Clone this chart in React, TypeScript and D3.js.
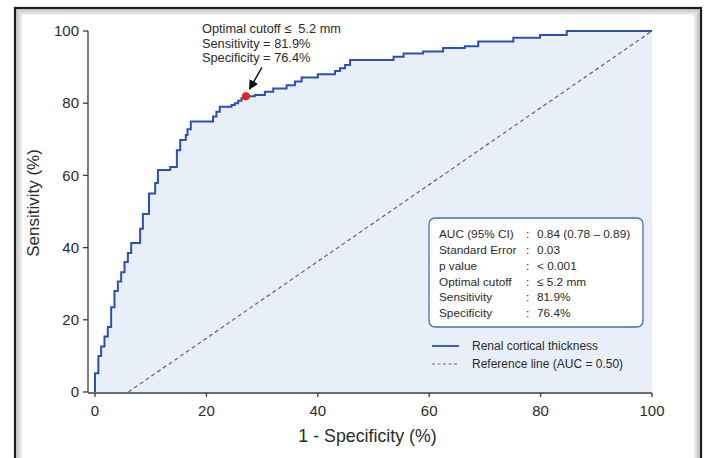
import React from "react";
import * as d3 from "d3";

// ROC step vertices: (1 - specificity, sensitivity) at the top of each vertical rise
const fprSteps = [0, 0, 0.6, 1.1, 1.7, 2.3, 2.9, 3.5, 4.1, 4.7, 5.3, 5.9, 6.5, 8.1, 8.6, 9.7, 10.8, 11.3, 13.5, 14.7, 15.3, 16.3, 16.6, 17.2, 21.2, 21.8, 22.4, 24.5, 25.1, 25.7, 26.3, 27.1, 28.7, 30.5, 32.0, 34.4, 35.9, 37.1, 40.0, 43.1, 44.0, 44.9, 45.8, 53.6, 55.4, 58.9, 62.5, 66.4, 68.8, 75.1, 79.9, 84.7, 100];
const sensSteps = [0, 5.2, 10.0, 12.6, 15.4, 18.0, 23.5, 28.0, 30.6, 33.2, 36.0, 38.5, 41.3, 45.2, 49.3, 55.0, 57.9, 61.5, 62.3, 67.0, 69.8, 71.2, 72.8, 74.9, 76.3, 77.6, 79.0, 79.5, 80.0, 80.7, 81.4, 81.9, 82.3, 83.2, 84.1, 85.0, 86.0, 87.1, 88.0, 88.9, 89.7, 90.6, 92.0, 92.9, 93.8, 94.3, 95.3, 95.8, 97.1, 98.1, 98.9, 100, 100];

const refX = [6, 100];
const refY = [0, 100];

const cutoffPoint = { fpr: 27.1, sens: 81.9 };

const xTicks = [0, 20, 40, 60, 80, 100];
const yTicks = [0, 20, 40, 60, 80, 100];

const statLabels = ["AUC (95% CI)", "Standard Error", "p value", "Optimal cutoff", "Sensitivity", "Specificity"];
const statValues = ["0.84 (0.78 \u2013 0.89)", "0.03", "< 0.001", "\u2264 5.2 mm", "81.9%", "76.4%"];

const annotationLines = ["Optimal cutoff \u2264  5.2 mm", "Sensitivity = 81.9%", "Specificity = 76.4%"];
const legendLabels = ["Renal cortical thickness", "Reference line (AUC = 0.50)"];

const W = 708;
const H = 458;
const FONT = "'Liberation Sans', Arial, sans-serif";
const BLUE = "#2b50b6";
const FILL = "#e9eff9";
const AXIS = "#3a3a3a";
const TEXT = "#2b2b2b";

export default function App() {
  const x = d3.scaleLinear().domain([0, 100]).range([95, 652]);
  const y = d3.scaleLinear().domain([0, 100]).range([392, 31]);
  const yAxisX = 88;

  const pts: [number, number][] = fprSteps.map((f, i) => [f, sensSteps[i]]);
  const line = d3
    .line<[number, number]>()
    .x((d) => x(d[0]))
    .y((d) => y(d[1]))
    .curve(d3.curveStepAfter);
  const area = d3
    .area<[number, number]>()
    .x((d) => x(d[0]))
    .y0(y(0))
    .y1((d) => y(d[1]))
    .curve(d3.curveStepAfter);

  const refPts: [number, number][] = refX.map((v, i) => [v, refY[i]]);
  const refLine = d3
    .line<[number, number]>()
    .x((d) => x(d[0]))
    .y((d) => y(d[1]));

  const dotX = x(cutoffPoint.fpr);
  const dotY = y(cutoffPoint.sens);

  const boxX = 429;
  const boxY = 218;
  const boxW = 214;
  const boxH = 109;
  const rowH = 15.8;
  const statFs = 11.8;

  return (
    <svg
      width={W}
      height={H}
      style={{ position: "absolute", left: 0, top: 0, background: "#fff" }}
      fontFamily={FONT}
    >
      <defs>
        <marker id="ah" viewBox="0 0 10 10" refX="8" refY="5" markerWidth="7" markerHeight="7" orient="auto">
          <path d="M0,0 L10,5 L0,10 z" fill="#111" />
        </marker>
      </defs>
      {/* frame with inner shadow */}
      <rect x={15} y={8} width={686} height={470} fill="#fff" stroke="#1c1c1c" strokeWidth={2.2} />
      {[2, 3.5, 5, 6.5].map((o, i) => (
        <rect
          key={i}
          x={15 + o}
          y={8 + o}
          width={686 - 2 * o}
          height={470 - 2 * o}
          fill="none"
          stroke="#000"
          strokeOpacity={0.22 - i * 0.05}
          strokeWidth={1.5}
        />
      ))}

      {/* area under curve */}
      <path d={area(pts) || ""} fill={FILL} />

      {/* reference line */}
      <path d={refLine(refPts) || ""} fill="none" stroke="#6e6e6e" strokeWidth={1.3} strokeDasharray="4,3" />

      {/* ROC curve */}
      <path d={line(pts) || ""} fill="none" stroke={BLUE} strokeWidth={2} />

      {/* axes */}
      <line x1={yAxisX} x2={yAxisX} y1={y(100)} y2={y(0)} stroke={AXIS} strokeWidth={1.3} />
      {yTicks.map((t) => (
        <g key={"y" + t}>
          <line x1={yAxisX - 5} x2={yAxisX} y1={y(t)} y2={y(t)} stroke={AXIS} strokeWidth={1.3} />
          <text x={yAxisX - 9} y={y(t)} dy="0.35em" textAnchor="end" fontSize={15} fill={TEXT}>
            {t}
          </text>
        </g>
      ))}
      <line x1={yAxisX} x2={x(100)} y1={y(0) + 1} y2={y(0) + 1} stroke={AXIS} strokeWidth={1.3} />
      {xTicks.map((t) => (
        <g key={"x" + t}>
          <line x1={x(t)} x2={x(t)} y1={y(0) + 1} y2={y(0) + 5} stroke={AXIS} strokeWidth={1.3} />
          <text x={x(t)} y={y(0) + 19} dy="0.35em" textAnchor="middle" fontSize={15} fill={TEXT}>
            {t}
          </text>
        </g>
      ))}
      <text x={(x(0) + x(100)) / 2 - 6} y={442} textAnchor="middle" fontSize={17.8} fill={TEXT}>
        1 - Specificity (%)
      </text>
      <text
        transform={`translate(39, 203) rotate(-90)`}
        textAnchor="middle"
        fontSize={17}
        fill={TEXT}
      >
        Sensitivity (%)
      </text>

      {/* optimal cutoff annotation */}
      <line x1={dotX + 16} y1={dotY - 29} x2={dotX + 4} y2={dotY - 8} stroke="#111" strokeWidth={1.4} markerEnd="url(#ah)" />
      <circle cx={dotX} cy={dotY} r={4} fill="#e8221b" />
      {annotationLines.map((s, i) => (
        <text
          key={s}
          x={dotX - 44}
          y={29 + i * 14.3}
          dy="0.35em"
          fontSize={12.8}
          fill={TEXT}
          style={{ whiteSpace: "pre" }}
        >
          {s}
        </text>
      ))}

      {/* stats box */}
      <rect x={boxX} y={boxY} width={boxW} height={boxH} rx={6} fill="#fff" stroke="#4b6db3" strokeWidth={1.3} />
      {statLabels.map((s, i) => (
        <g key={s}>
          <text x={boxX + 10} y={boxY + 16 + i * rowH} dy="0.35em" fontSize={statFs} fill={TEXT}>
            {s}
          </text>
          <text x={boxX + 97} y={boxY + 16 + i * rowH} dy="0.35em" fontSize={statFs} fill={TEXT}>
            {":"}
          </text>
          <text x={boxX + 108} y={boxY + 16 + i * rowH} dy="0.35em" fontSize={statFs} fill={TEXT}>
            {statValues[i]}
          </text>
        </g>
      ))}

      {/* legend */}
      <line x1={432} x2={459} y1={346} y2={346} stroke={BLUE} strokeWidth={1.8} />
      <text x={472} y={346} dy="0.35em" fontSize={12} fill={TEXT}>
        {legendLabels[0]}
      </text>
      <line x1={432} x2={459} y1={364} y2={364} stroke="#6e6e6e" strokeWidth={1.2} strokeDasharray="3,2.5" />
      <text x={472} y={364} dy="0.35em" fontSize={12} fill={TEXT}>
        {legendLabels[1]}
      </text>
    </svg>
  );
}
